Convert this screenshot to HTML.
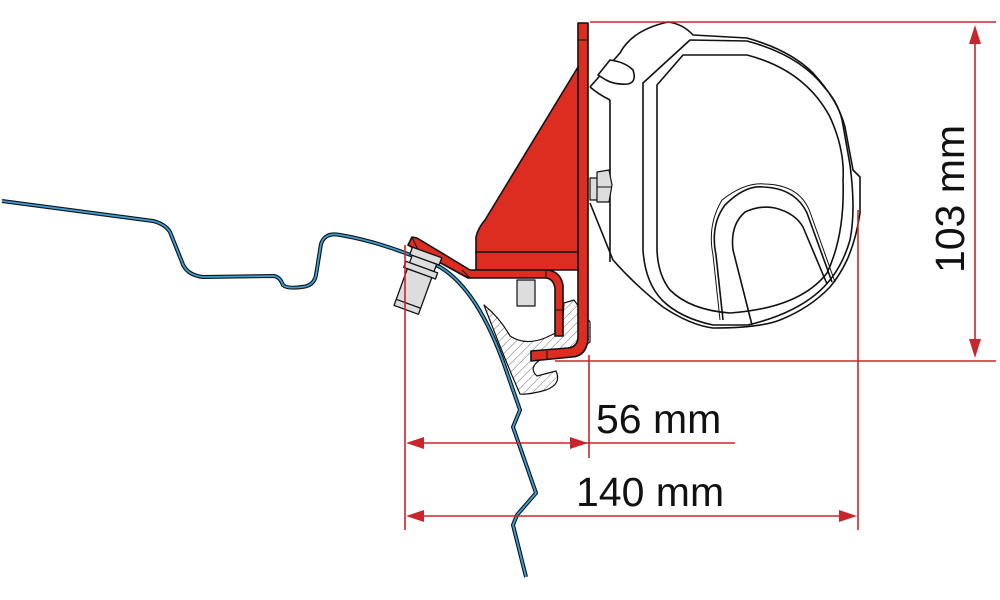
<!DOCTYPE html>
<html><head><style>html,body{margin:0;padding:0;background:#fff}svg{display:block}</style></head>
<body>
<svg width="1000" height="600" viewBox="0 0 1000 600" xmlns="http://www.w3.org/2000/svg">
<defs>
<pattern id="h" width="6" height="6" patternUnits="userSpaceOnUse" patternTransform="rotate(45)">
<rect width="6" height="6" fill="#fff"/><line x1="0" y1="0" x2="0" y2="6" stroke="#444" stroke-width="0.8"/></pattern>
</defs>
<g fill="none" stroke="#111" stroke-width="1.6" stroke-linejoin="round">
<path d="M2,201 L153,221 Q165,224 170,232 L182,262 Q186,275 203,277 L274,276 Q280,277 283,285 Q287,289 302,287 Q314,286 316,275 L321,244 Q325,232 340,235 Q383,242 440,267 Q478,290 505,367 L520,410 L513,427 L536,493 L517,515 L513,525 L526,577" stroke="#111" stroke-width="4"/>
<path d="M2,201 L153,221 Q165,224 170,232 L182,262 Q186,275 203,277 L274,276 Q280,277 283,285 Q287,289 302,287 Q314,286 316,275 L321,244 Q325,232 340,235 Q383,242 440,267 Q478,290 505,367 L520,410 L513,427 L536,493 L517,515 L513,525 L526,577" stroke="#3a9fd6" stroke-width="1.8"/>
<path d="M484,305 Q500,318 510,336 Q525,346 545,338 L562,330 L564,303 L574,300 L590,322 L590,342 L570,355 L540,360 Q528,368 537,376 L556,371 Q562,384 546,390 Q528,395 520,394 Q505,360 484,305 Z" fill="url(#h)" stroke-width="1.2"/>
<path d="M590,87 L620,53 Q632,30 668,22 Q683,24 693,35 L747,38 Q790,50 813,73 Q838,100 845,127 L853,170 L860,177 L860,213 Q856,240 847,260 Q840,275 830,287 Q810,308 780,320 Q760,328 713,328 Q690,325 663,307 Q635,285 613,260 L590,203" fill="#fff"/>
<path d="M610,100 L610,262"/>
<path d="M590,87 Q598,94 610,100"/>
<path d="M643,83 L690,40 L747,41 Q800,55 825,88 Q840,105 843,125 L850,165 Q856,210 850,240 Q840,275 815,295 Q790,315 748,325 L713,325 Q680,318 662,300 Q645,282 643,250 Z"/>
<path d="M657,85 L683,55 L747,55 Q805,70 830,117 Q845,150 843,180 Q845,235 827,273 Q800,308 730,313 Q690,310 670,290 Q658,275 657,250 Z"/>
<path d="M723,320 L716,255 Q710,225 725,205 Q745,185 763,187 Q795,188 807,213 L832,282"/>
<path d="M720,320 L713,255 Q707,225 722,200 Q745,182 765,184 Q800,185 810,212 L835,282" stroke-width="1"/>
<path d="M752,325 L733,250 Q730,225 745,212 Q760,205 775,208 Q795,213 803,227 L827,284"/>
<path d="M598,75 L610,60 Q625,62 633,70 Q637,82 628,84 Q615,85 606,80 Z" fill="#fff"/>
<rect x="590" y="178" width="8" height="22" fill="#ddd" stroke-width="1.2"/>
<path d="M597,172 L609,170 L612,185 L609,202 L597,202 Z" fill="#ddd" stroke-width="1.2"/>
<line x1="597" y1="187" x2="612" y2="187" stroke-width="1"/>
<path d="M578,23 L588,23 L588,340 Q586,356 572,357 L531,361 L531,351 L568,348 Q577,347 578,338 Z" fill="#dc2d20"/>
<path d="M578,67 L578,253 L476,253 L476,237 Q478,228 485,220 Z" fill="#dc2d20"/>
<rect x="476" y="252" width="102" height="18" fill="#dc2d20"/>
<path d="M412,237 L417,238 L470,270 L545,270 Q560,270 563,285 L563,336 L555,336 L555,288 Q553,278 545,278 L468,278 L408,245 Z" fill="#dc2d20"/>
<path d="M412,237 L418,250" stroke-width="1"/>
<path d="M462,270 L470,278 M546,270 L546,278 M555,310 L563,310 M578,40 L588,40 M547,351 L547,360" stroke-width="1"/>
<rect x="517" y="280" width="18" height="26" fill="#ddd" stroke-width="1.2"/>
<g transform="translate(416,283) rotate(20) scale(1.3)" fill="#ddd" stroke-width="1">
<rect x="-12" y="-25" width="24" height="6"/>
<rect x="-10" y="-19" width="20" height="6"/>
<rect x="-13" y="-13" width="26" height="5"/>
<rect x="-10" y="-8" width="20" height="30"/>
<line x1="-10" y1="17" x2="10" y2="17"/>
</g>
</g>
<g stroke="#c8262c" stroke-width="1.6" fill="none">
<line x1="590" y1="22" x2="996" y2="22"/>
<line x1="555" y1="361" x2="996" y2="361"/>
<line x1="975" y1="30" x2="975" y2="352"/>
<line x1="405" y1="245" x2="405" y2="530"/>
<line x1="589" y1="355" x2="589" y2="458"/>
<line x1="858" y1="210" x2="858" y2="530"/>
<line x1="410" y1="443" x2="735" y2="443"/>
<line x1="410" y1="516" x2="852" y2="516"/>
</g>
<g fill="#c8262c">
<path d="M975,25 L969,44 L981,44 Z"/>
<path d="M975,358 L969,339 L981,339 Z"/>
<path d="M406,443 L424,437 L424,449 Z"/>
<path d="M588,443 L570,437 L570,449 Z"/>
<path d="M406,516 L424,510 L424,522 Z"/>
<path d="M857,516 L839,510 L839,522 Z"/>
</g>
<g font-family="Liberation Sans, sans-serif" font-size="41" fill="#111">
<text x="596" y="433">56 mm</text>
<text x="576" y="506">140 mm</text>
<text transform="translate(964,199) rotate(-90)" text-anchor="middle">103 mm</text>
</g>
</svg>
</body></html>
